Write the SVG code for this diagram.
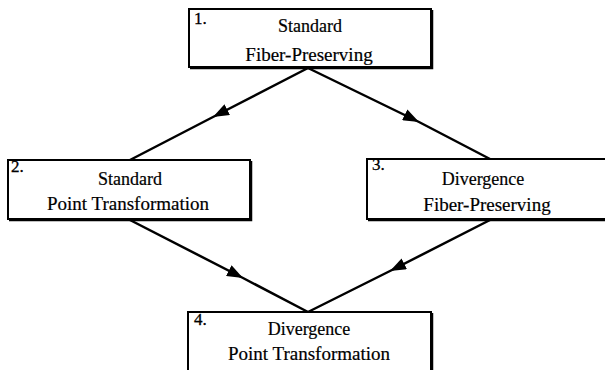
<svg xmlns="http://www.w3.org/2000/svg" width="605" height="370" viewBox="0 0 605 370">
<style>
.box{fill:#fff;stroke:#000;stroke-width:2}
.sh{fill:none;stroke:#000;stroke-width:2.5}
.t{font-family:"Liberation Serif","Times New Roman",serif;font-size:18px;fill:#000;text-anchor:middle;stroke:#000;stroke-width:0.2}
.n{font-family:"Liberation Serif","Times New Roman",serif;font-size:17px;fill:#000;stroke:#000;stroke-width:0.3}
.c{fill:none;stroke:#000;stroke-width:2.5;marker-mid:url(#ah)}
</style>
<defs>
<marker id="ah" viewBox="0 0 16 12" refX="16" refY="6" markerWidth="16" markerHeight="12" markerUnits="userSpaceOnUse" orient="auto">
<path d="M0,0 L16,6 L0,12 Z" fill="#000"/>
</marker>
</defs>
<g id="connectors">
<path class="c" d="M308,68 L213,117 L130,160"/>
<path class="c" d="M308,68 L419,122 L490,159"/>
<path class="c" d="M130,220 L243,278 L308,312"/>
<path class="c" d="M490,220 L390,271 L308,312"/>
</g>
<g id="node1">
<rect class="box" x="189" y="9" width="242" height="58"/>
<path class="sh" d="M190,68 H432 V10"/>
<text class="n" x="194" y="24">1.</text>
<text class="t" x="310" y="32">Standard</text>
<text class="t" x="309" y="61" style="font-size:19px">Fiber-Preserving</text>
</g>
<g id="node2">
<rect class="box" x="8" y="160" width="242" height="59"/>
<path class="sh" d="M9,220 H251 V161"/>
<text class="n" x="11" y="172">2.</text>
<text class="t" x="130" y="185">Standard</text>
<text class="t" x="128" y="210" style="font-size:19px">Point Transformation</text>
</g>
<g id="node3">
<rect class="box" x="367" y="159" width="242" height="60"/>
<path class="sh" d="M368,220 H610"/>
<text class="n" x="372" y="170">3.</text>
<text class="t" x="483" y="185">Divergence</text>
<text class="t" x="487" y="211" style="font-size:19px">Fiber-Preserving</text>
</g>
<g id="node4">
<rect class="box" x="188" y="312" width="243" height="70"/>
<path class="sh" d="M432,313 V372"/>
<text class="n" x="194" y="325">4.</text>
<text class="t" x="309" y="335">Divergence</text>
<text class="t" x="309" y="360" style="font-size:19px">Point Transformation</text>
</g>
</svg>
